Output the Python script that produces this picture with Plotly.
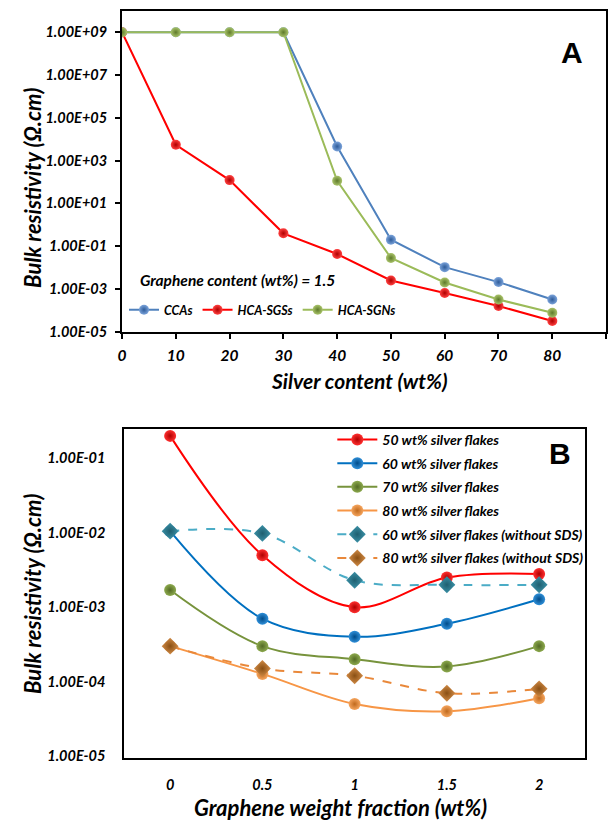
import plotly.graph_objects as go

# ---------------- data: panel A ----------------
silver_content = [0, 10, 20, 30, 40, 50, 60, 70, 80]
ccas = [1e9, 1e9, 1e9, 1e9, 4.6e3, 0.2, 0.0105, 0.0021, 3.2e-4]
hca_sgss = [1e9, 5.5e3, 123, 0.4, 0.043, 0.0025, 6.5e-4, 1.6e-4, 3.2e-5]
hca_sgns = [1e9, 1e9, 1e9, 1e9, 115, 0.028, 0.002, 3.2e-4, 7.7e-5]
top_tickvals = [1e9, 1e7, 1e5, 1e3, 1e1, 1e-1, 1e-3, 1e-5]
top_ticktext = ["1.00E+09", "1.00E+07", "1.00E+05", "1.00E+03",
                "1.00E+01", "1.00E-01", "1.00E-03", "1.00E-05"]
top_xticks = [0, 10, 20, 30, 40, 50, 60, 70, 80, 90]

# ---------------- data: panel B ----------------
graphene = [0, 0.5, 1, 1.5, 2]
graphene_labels = ["0", "0.5", "1", "1.5", "2"]
ag50 = [0.2, 0.005, 0.001, 0.0025, 0.0028]
ag60 = [0.0105, 7e-4, 4e-4, 6e-4, 1.28e-3]
ag70 = [1.7e-3, 3e-4, 2e-4, 1.6e-4, 3e-4]
ag80 = [3e-4, 1.27e-4, 5e-5, 4e-5, 6e-5]
ag60_nosds = [0.0105, 0.0098, 2.3e-3, 2.0e-3, 2.0e-3]
ag80_nosds = [3e-4, 1.5e-4, 1.2e-4, 7e-5, 8e-5]
bot_tickvals = [1e-1, 1e-2, 1e-3, 1e-4, 1e-5]
bot_ticktext = ["1.00E-01", "1.00E-02", "1.00E-03", "1.00E-04", "1.00E-05"]

FONT = "Lato"
W, H = 614, 826


def fx(px):
    return px / W


def fy(py):
    return 1 - py / H


fig = go.Figure()


def sphere(color, dark, size, symbol="circle"):
    return dict(size=size, color=color, symbol=symbol,
                gradient=dict(type="radial", color=dark),
                line=dict(width=0))


# panel A traces
fig.add_trace(go.Scatter(x=silver_content, y=ccas, name="CCAs", mode="lines+markers",
                         line=dict(color="#4F81BD", width=2),
                         marker=sphere("#7BA3DA", "#2E5C9A", 10),
                         xaxis="x", yaxis="y", legend="legend"))
fig.add_trace(go.Scatter(x=silver_content, y=hca_sgss, name="HCA-SGSs", mode="lines+markers",
                         line=dict(color="#FF0000", width=2),
                         marker=sphere("#FF4040", "#B00000", 10),
                         xaxis="x", yaxis="y", legend="legend"))
fig.add_trace(go.Scatter(x=silver_content, y=hca_sgns, name="HCA-SGNs", mode="lines+markers",
                         line=dict(color="#9BBB59", width=2),
                         marker=sphere("#A9C36A", "#5E7A2A", 10),
                         xaxis="x", yaxis="y", legend="legend"))

# panel B traces
bdefs = [
    ("50 wt% silver flakes", ag50, "#FF0000", "#FF3030", "#B00000", "solid", "circle", 12),
    ("60 wt% silver flakes", ag60, "#0070C0", "#2F8FD8", "#004C8A", "solid", "circle", 12),
    ("70 wt% silver flakes", ag70, "#77933C", "#8DAA4E", "#536A24", "solid", "circle", 12),
    ("80 wt% silver flakes", ag80, "#F79646", "#F5A55E", "#C06A1E", "solid", "circle", 12),
    ("60 wt% silver flakes (without SDS)", ag60_nosds, "#4BACC6", "#3A90A6", "#1F5F70", "dash", "diamond", 13),
    ("80 wt% silver flakes (without SDS)", ag80_nosds, "#E9883A", "#D08A45", "#8A5014", "dash", "diamond", 13),
]
for i, (name, ys, lc, mc, dc, dash, sym, sz) in enumerate(bdefs):
    fig.add_trace(go.Scatter(x=graphene, y=ys, name=name, mode="lines+markers",
                             line=dict(color=lc, width=2, dash=dash, shape="spline", smoothing=1.0),
                             marker=sphere(mc, dc, sz, sym), legendgroup=f"g{i}",
                             xaxis="x2", yaxis="y2", legend="legend2"))


def bi(size):
    return dict(family=FONT, size=size, color="black", weight="bold", style="italic")


fig.update_layout(
    width=W, height=H,
    margin=dict(l=0, r=0, t=0, b=0),
    paper_bgcolor="white", plot_bgcolor="white",
    showlegend=True,
    xaxis=dict(domain=[fx(118), fx(606)], range=[0, 90], tickvals=top_xticks,
               showgrid=False, zeroline=False, showline=True, mirror=True,
               linecolor="black", linewidth=2, ticks="outside", ticklen=5,
               tickcolor="black", tickwidth=1.5, ticklabelstandoff=4,
               tickfont=bi(15.5), anchor="y"),
    yaxis=dict(domain=[fy(335), fy(11)], type="log", range=[-5, 10],
               tickvals=top_tickvals, ticktext=top_ticktext,
               showgrid=False, zeroline=False, showline=True, mirror=True,
               linecolor="black", linewidth=2, ticks="outside", ticklen=5,
               tickcolor="black", tickwidth=1.5, ticklabelstandoff=5,
               tickfont=bi(14.5), anchor="x"),
    xaxis2=dict(domain=[fx(120), fx(585)], range=[-0.25, 2.25], tickvals=graphene,
                ticktext=graphene_labels,
                showgrid=False, zeroline=False, showline=True, mirror=True,
                linecolor="black", linewidth=1.5, ticks="", ticklabelstandoff=13,
                tickfont=bi(14.5), anchor="y2"),
    yaxis2=dict(domain=[fy(765), fy(432.7)], type="log", range=[-5.02, -0.6],
                tickvals=bot_tickvals, ticktext=bot_ticktext,
                showgrid=False, zeroline=False, showline=True, mirror=True,
                linecolor="black", linewidth=1.5, ticks="", ticklabelstandoff=14,
                tickfont=bi(14.5), anchor="x2"),
    legend=dict(orientation="h", x=fx(120), y=fy(298), xanchor="left", yanchor="top",
                bgcolor="rgba(0,0,0,0)", itemwidth=30, tracegroupgap=0,
                font=bi(12.5)),
    legend2=dict(orientation="v", x=fx(330), y=fy(428), xanchor="left", yanchor="top",
                 bgcolor="rgba(0,0,0,0)", itemwidth=40, tracegroupgap=2.5,
                 font=bi(14)),
)

annots = [
    dict(text="Bulk resistivity (Ω.cm)", x=fx(27), y=fy(190), textangle=-90, font=bi(22)),
    dict(text="Silver content (wt%)", x=fx(357), y=fy(384), font=bi(21)),
    dict(text="Bulk resistivity (Ω.cm)", x=fx(27), y=fy(600), textangle=-90, font=bi(22)),
    dict(text="Graphene weight fraction (wt%)", x=fx(338), y=fy(815), font=bi(22)),
    dict(text="Graphene content (wt%) = 1.5", x=fx(134), y=fy(283), xanchor="left",
         font=bi(15.5)),
    dict(text="A", x=fx(572), y=fy(53),
         font=dict(family="Liberation Sans", size=30, color="black", weight="bold")),
    dict(text="B", x=fx(560), y=fy(458),
         font=dict(family="Liberation Sans", size=30, color="black", weight="bold")),
]
for a in annots:
    a.setdefault("xanchor", "center")
    a.update(xref="paper", yref="paper", showarrow=False, yanchor="middle")
    fig.add_annotation(**a)

fig.write_html("out.html")
